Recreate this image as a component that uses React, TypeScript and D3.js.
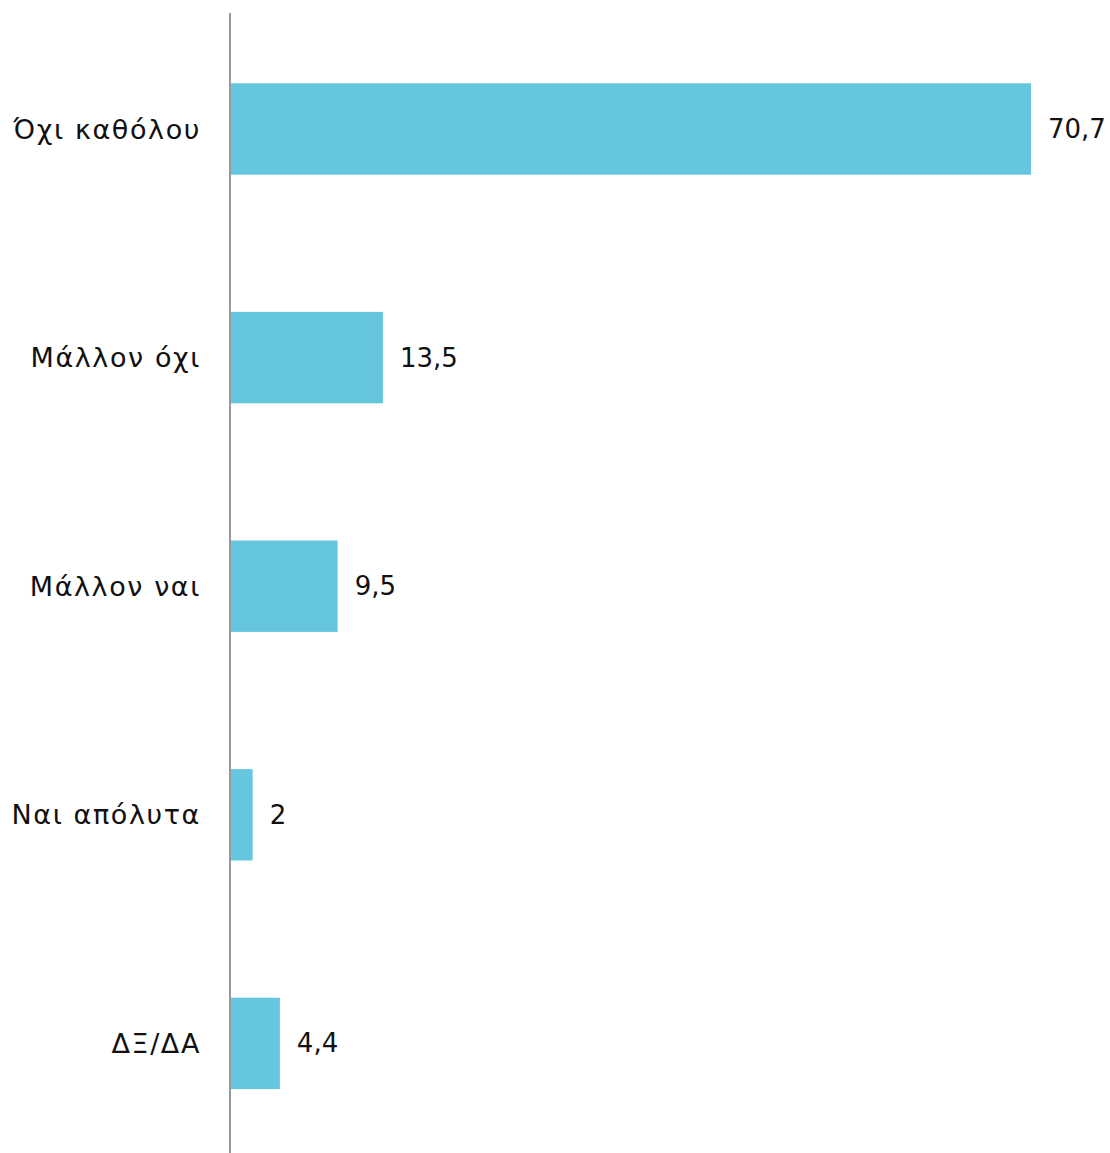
import React from "react";
import * as d3 from "d3";

const categories = ["Όχι καθόλου", "Μάλλον όχι", "Μάλλον ναι", "Ναι απόλυτα", "ΔΞ/ΔΑ"];
const values = [70.7, 13.5, 9.5, 2, 4.4];
const valueLabels = ["70,7", "13,5", "9,5", "2", "4,4"];

const W = 1110;
const H = 1153;
const axisX = 230;

export default function App() {
  const x = d3.scaleLinear().domain([0, 70.7]).range([axisX, 1031]);
  const y = d3.scaleBand<string>().domain(categories).range([14.7, 1157.7]).paddingInner(0.6).paddingOuter(0.3);
  const font = "'DejaVu Sans', sans-serif";
  return (
    <svg width={W} height={H} style={{ position: "absolute", left: 0, top: 0, background: "#fff" }}>
      {categories.map((c, i) => {
        const yc = (y(c) as number) + y.bandwidth() / 2;
        return (
          <g key={c}>
            <rect x={x(0)} y={y(c)} width={x(values[i]) - x(0)} height={y.bandwidth()} fill="#65C6DE" />
            <text x={axisX - 29} y={yc} textAnchor="end" dominantBaseline="central" fontFamily={font} fontSize={27} letterSpacing={1.6} fill="#111">
              {c}
            </text>
            <text x={x(values[i]) + 17} y={yc} dominantBaseline="central" fontFamily={font} fontSize={26} fill="#111">
              {valueLabels[i]}
            </text>
          </g>
        );
      })}
      <line x1={axisX} x2={axisX} y1={13} y2={H} stroke="#999" strokeWidth={2} />
    </svg>
  );
}
